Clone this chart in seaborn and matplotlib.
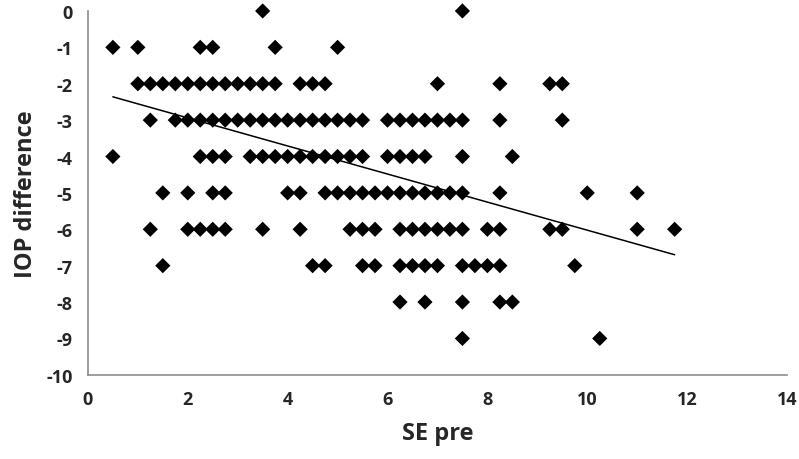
import numpy as np
import pandas as pd
import matplotlib
matplotlib.use('Agg')
import matplotlib.pyplot as plt
import seaborn as sns

sns.set_style('white')
plt.rcParams['font.family'] = ['Open Sans', 'DejaVu Sans']
plt.rcParams['axes.unicode_minus'] = False

# SE pre values for each IOP difference level
se_0 = [3.5, 7.5]
se_m1 = [0.5, 1.0, 2.25, 2.5, 3.75, 5.0]
se_m2 = [1.0, 1.25, 1.5, 1.75, 2.0, 2.25, 2.5, 2.75, 3.0, 3.25, 3.5, 3.75,
         4.25, 4.5, 4.75, 7.0, 8.25, 9.25, 9.5]
se_m3 = [1.25, 1.75, 2.0, 2.25, 2.5, 2.75, 3.0, 3.25, 3.5, 3.75, 4.0, 4.25,
         4.5, 4.75, 5.0, 5.25, 5.5, 6.0, 6.25, 6.5, 6.75, 7.0, 7.25, 7.5,
         8.25, 9.5]
se_m4 = [0.5, 2.25, 2.5, 2.75, 3.25, 3.5, 3.75, 4.0, 4.25, 4.5, 4.75, 5.0,
         5.25, 5.5, 6.0, 6.25, 6.5, 6.75, 7.5, 8.5]
se_m5 = [1.5, 2.0, 2.5, 2.75, 4.0, 4.25, 4.75, 5.0, 5.25, 5.5, 5.75, 6.0,
         6.25, 6.5, 6.75, 7.0, 7.25, 7.5, 8.25, 10.0, 11.0]
se_m6 = [1.25, 2.0, 2.25, 2.5, 2.75, 3.5, 4.25, 5.25, 5.5, 5.75, 6.25, 6.5,
         6.75, 7.0, 7.25, 7.5, 8.0, 8.25, 9.25, 9.5, 11.0, 11.75]
se_m7 = [1.5, 4.5, 4.75, 5.5, 5.75, 6.25, 6.5, 6.75, 7.0, 7.5, 7.75, 8.0,
         8.25, 9.75]
se_m8 = [6.25, 6.75, 7.5, 8.25, 8.5]
se_m9 = [7.5, 10.25]

# linear trendline as drawn in the original (endpoints)
trend_x = [0.5, 11.75]
trend_y = [-2.36, -6.70]

groups = {0: se_0, -1: se_m1, -2: se_m2, -3: se_m3, -4: se_m4,
          -5: se_m5, -6: se_m6, -7: se_m7, -8: se_m8, -9: se_m9}
rows = [(x, iop) for iop, xs in groups.items() for x in xs]
df = pd.DataFrame(rows, columns=['SE pre', 'IOP difference'])

fig = plt.figure(figsize=(7.99, 4.60), dpi=100)
ax = fig.add_axes([0.110, 0.183, 0.875, 0.791])

sns.scatterplot(data=df, x='SE pre', y='IOP difference', marker='D', s=60,
                color='black', edgecolor='none', ax=ax, zorder=3, clip_on=False)
sns.lineplot(x=trend_x, y=trend_y, color='black', linewidth=1.1, ax=ax)

ax.set_xlim(0, 14)
ax.set_ylim(-10, 0)
ax.set_xticks(range(0, 15, 2))
ax.set_yticks(range(-10, 1))
for s in ['top', 'right']:
    ax.spines[s].set_visible(False)
for s in ['left', 'bottom']:
    ax.spines[s].set_color('#8c8c8c')
    ax.spines[s].set_linewidth(1.2)
ax.tick_params(axis='both', which='major', direction='out', length=5,
               width=1.2, color='#8c8c8c', labelsize=13, pad=6)
for lab in ax.get_xticklabels() + ax.get_yticklabels():
    lab.set_fontweight('bold')
ax.set_xlabel('SE pre', fontsize=17, fontweight='bold', labelpad=9)
ax.set_ylabel('IOP difference', fontsize=17, fontweight='bold', labelpad=6)

plt.savefig('out.png', dpi=100)
